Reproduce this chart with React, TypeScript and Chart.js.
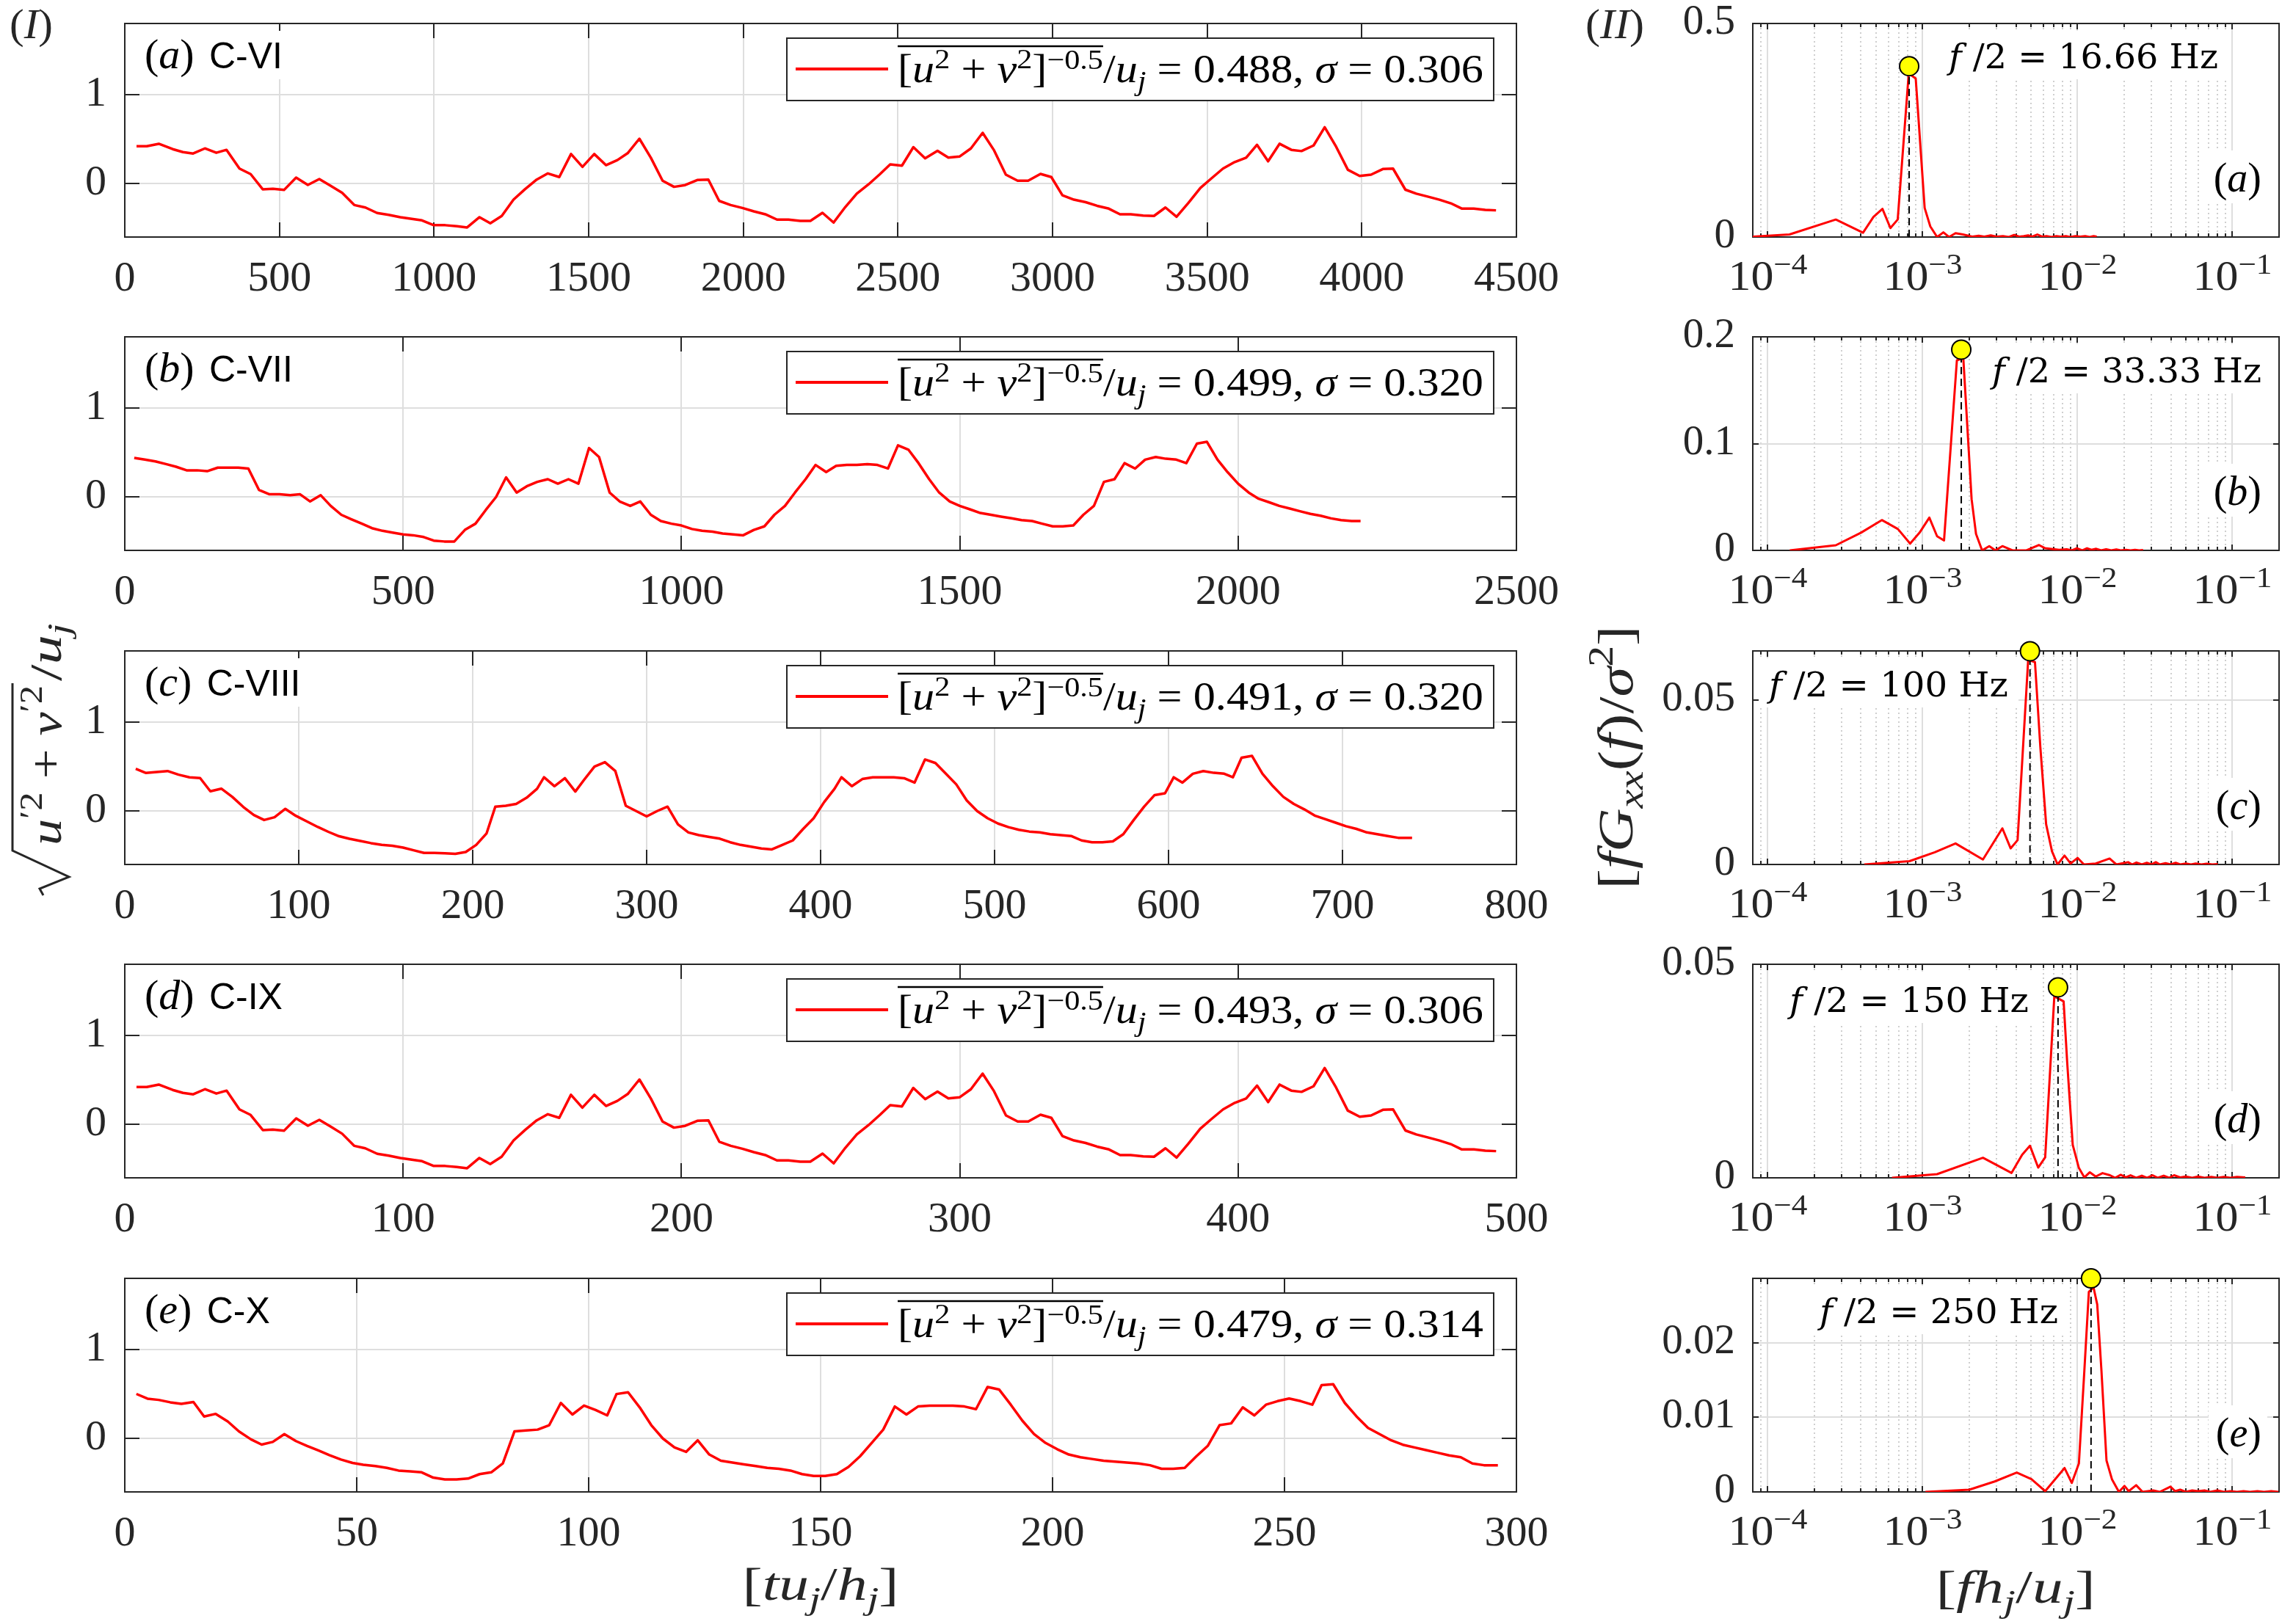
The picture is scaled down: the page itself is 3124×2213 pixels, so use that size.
import React, { useEffect, useRef } from 'react';
import { Chart, registerables } from 'chart.js';

Chart.register(...registerables);

// ---------------- DATA ----------------
const seriesA: [number, number][] = [[38,0.42],[71,0.42],[110,0.448],[155,0.388],[188,0.355],[221,0.339],[259,0.396],[296,0.347],[329,0.38],[371,0.169],[407,0.107],[446,-0.063],[479,-0.057],[515,-0.071],[554,0.068],[592,-0.014],[629,0.052],[665,-0.022],[703,-0.104],[742,-0.24],[778,-0.268],[816,-0.33],[853,-0.35],[891,-0.377],[928,-0.396],[961,-0.413],[999,-0.467],[1036,-0.467],[1074,-0.478],[1107,-0.492],[1147,-0.377],[1182,-0.445],[1219,-0.363],[1257,-0.18],[1294,-0.063],[1332,0.046],[1368,0.115],[1405,0.074],[1443,0.333],[1480,0.189],[1518,0.333],[1556,0.208],[1593,0.265],[1626,0.342],[1664,0.505],[1701,0.292],[1739,0.033],[1776,-0.036],[1812,-0.016],[1851,0.041],[1887,0.046],[1922,-0.194],[1959,-0.24],[1997,-0.273],[2034,-0.311],[2071,-0.344],[2109,-0.404],[2146,-0.404],[2184,-0.418],[2217,-0.418],[2256,-0.328],[2292,-0.437],[2330,-0.262],[2367,-0.112],[2405,-0.008],[2442,0.107],[2475,0.216],[2513,0.202],[2550,0.41],[2588,0.284],[2628,0.369],[2663,0.292],[2700,0.306],[2736,0.396],[2774,0.571],[2811,0.374],[2849,0.101],[2887,0.033],[2921,0.033],[2961,0.109],[2996,0.074],[3032,-0.131],[3069,-0.18],[3107,-0.208],[3144,-0.249],[3182,-0.281],[3218,-0.344],[3253,-0.344],[3293,-0.358],[3328,-0.363],[3365,-0.268],[3401,-0.372],[3440,-0.213],[3478,-0.049],[3514,0.06],[3551,0.169],[3589,0.243],[3626,0.292],[3661,0.437],[3697,0.251],[3734,0.448],[3772,0.38],[3805,0.366],[3844,0.429],[3880,0.634],[3917,0.415],[3955,0.156],[3993,0.087],[4030,0.101],[4068,0.164],[4101,0.169],[4141,-0.068],[4176,-0.112],[4213,-0.145],[4251,-0.18],[4288,-0.221],[4324,-0.281],[4362,-0.281],[4399,-0.295],[4434,-0.3]];

const seriesB: [number, number][] = [[17,0.44],[36,0.42],[55,0.4],[74,0.37],[92,0.34],[111,0.3],[130,0.3],[148,0.29],[167,0.33],[185,0.33],[204,0.33],[222,0.32],[241,0.08],[260,0.03],[278,0.03],[297,0.02],[315,0.03],[333,-0.05],[352,0.02],[370,-0.1],[389,-0.2],[407,-0.25],[426,-0.3],[444,-0.35],[463,-0.38],[481,-0.4],[500,-0.42],[518,-0.43],[537,-0.45],[555,-0.49],[574,-0.5],[592,-0.5],[611,-0.37],[630,-0.3],[648,-0.15],[667,0.0],[685,0.22],[704,0.05],[722,0.12],[741,0.17],[760,0.2],[778,0.15],[797,0.2],[815,0.15],[834,0.55],[852,0.45],[871,0.05],[889,-0.05],[908,-0.1],[926,-0.05],[945,-0.2],[963,-0.27],[982,-0.3],[1000,-0.32],[1019,-0.36],[1037,-0.38],[1056,-0.39],[1074,-0.41],[1093,-0.42],[1111,-0.43],[1130,-0.37],[1149,-0.33],[1167,-0.2],[1186,-0.1],[1204,0.05],[1223,0.2],[1241,0.36],[1260,0.28],[1278,0.35],[1297,0.36],[1315,0.36],[1334,0.37],[1352,0.36],[1371,0.32],[1389,0.58],[1408,0.53],[1426,0.38],[1445,0.2],[1463,0.05],[1482,-0.05],[1500,-0.1],[1519,-0.14],[1537,-0.18],[1556,-0.2],[1574,-0.22],[1593,-0.24],[1611,-0.26],[1630,-0.27],[1648,-0.3],[1667,-0.33],[1685,-0.33],[1704,-0.32],[1722,-0.2],[1741,-0.1],[1759,0.17],[1778,0.2],[1796,0.38],[1815,0.32],[1833,0.42],[1852,0.45],[1870,0.43],[1889,0.42],[1907,0.38],[1926,0.6],[1944,0.62],[1963,0.42],[1981,0.28],[2000,0.15],[2019,0.05],[2037,-0.02],[2056,-0.06],[2074,-0.1],[2093,-0.13],[2111,-0.16],[2130,-0.19],[2148,-0.21],[2167,-0.24],[2185,-0.26],[2204,-0.27],[2220,-0.27]];

const seriesC: [number, number][] = [[6.3,0.475],[12.2,0.428],[18.3,0.44],[24.6,0.45],[30.9,0.409],[37.2,0.38],[43.3,0.371],[49.2,0.223],[55.5,0.252],[61.8,0.16],[68.1,0.047],[74.2,-0.044],[80.1,-0.1],[86.1,-0.069],[92.3,0.025],[98.3,-0.053],[104.6,-0.116],[111,-0.179],[117,-0.233],[123.2,-0.283],[129.2,-0.311],[135.5,-0.336],[141.5,-0.36],[147.7,-0.38],[153.8,-0.39],[160,-0.41],[166,-0.44],[172,-0.47],[178,-0.47],[184,-0.475],[190,-0.48],[196,-0.46],[202,-0.38],[208,-0.25],[213,0.05],[219,0.06],[225,0.08],[231,0.15],[237,0.25],[241,0.38],[247,0.28],[253,0.37],[259,0.22],[264,0.35],[270,0.5],[276,0.55],[282,0.45],[288,0.06],[294,0.0],[300,-0.06],[306,0.0],[312,0.05],[318,-0.15],[324,-0.24],[330,-0.27],[336,-0.29],[342,-0.31],[348,-0.35],[354,-0.38],[360,-0.4],[366,-0.42],[372,-0.43],[378,-0.38],[384,-0.33],[390,-0.2],[396,-0.08],[402,0.1],[408,0.25],[412,0.38],[418,0.28],[424,0.36],[430,0.38],[436,0.38],[442,0.38],[448,0.37],[454,0.32],[460,0.58],[466,0.54],[472,0.42],[478,0.3],[484,0.12],[490,0.0],[496,-0.08],[502,-0.14],[508,-0.18],[514,-0.21],[520,-0.23],[526,-0.24],[532,-0.26],[538,-0.27],[544,-0.28],[550,-0.33],[556,-0.35],[562,-0.35],[568,-0.34],[574,-0.26],[580,-0.1],[586,0.05],[592,0.18],[598,0.2],[603,0.38],[608,0.32],[614,0.42],[620,0.45],[626,0.43],[632,0.42],[637,0.38],[642,0.6],[648,0.62],[654,0.42],[660,0.28],[666,0.16],[672,0.08],[678,0.02],[684,-0.05],[690,-0.09],[696,-0.13],[702,-0.17],[708,-0.2],[714,-0.24],[720,-0.26],[726,-0.28],[732,-0.3],[740,-0.3]];

const seriesD: [number, number][] = [[4.2,0.42],[7.9,0.42],[12.2,0.448],[17.2,0.388],[20.9,0.355],[24.6,0.339],[28.8,0.396],[32.9,0.347],[36.6,0.38],[41.2,0.169],[45.2,0.107],[49.6,-0.063],[53.2,-0.057],[57.2,-0.071],[61.6,0.068],[65.8,-0.014],[69.9,0.052],[73.9,-0.022],[78.1,-0.104],[82.4,-0.24],[86.4,-0.268],[90.7,-0.33],[94.8,-0.35],[99,-0.377],[103.1,-0.396],[106.8,-0.413],[111,-0.467],[115.1,-0.467],[119.3,-0.478],[123,-0.492],[127.4,-0.377],[131.3,-0.445],[135.4,-0.363],[139.7,-0.18],[143.8,-0.063],[148,0.046],[152,0.115],[156.1,0.074],[160.3,0.333],[164.4,0.189],[168.7,0.333],[172.9,0.208],[177,0.265],[180.7,0.342],[184.9,0.505],[189,0.292],[193.2,0.033],[197.3,-0.036],[201.3,-0.016],[205.7,0.041],[209.7,0.046],[213.6,-0.194],[217.7,-0.24],[221.9,-0.273],[226,-0.311],[230.1,-0.344],[234.3,-0.404],[238.4,-0.404],[242.7,-0.418],[246.3,-0.418],[250.7,-0.328],[254.7,-0.437],[258.9,-0.262],[263,-0.112],[267.2,-0.008],[271.3,0.107],[275,0.216],[279.2,0.202],[283.3,0.41],[287.6,0.284],[292,0.369],[295.9,0.292],[300,0.306],[304,0.396],[308.2,0.571],[312.3,0.374],[316.6,0.101],[320.8,0.033],[324.6,0.033],[329,0.109],[332.9,0.074],[336.9,-0.131],[341,-0.18],[345.2,-0.208],[349.3,-0.249],[353.6,-0.281],[357.6,-0.344],[361.4,-0.344],[365.9,-0.358],[369.8,-0.363],[373.9,-0.268],[377.9,-0.372],[382.2,-0.213],[386.4,-0.049],[390.4,0.06],[394.6,0.169],[398.8,0.243],[402.9,0.292],[406.8,0.437],[410.8,0.251],[414.9,0.448],[419.1,0.38],[422.8,0.366],[427.1,0.429],[431.1,0.634],[435.2,0.415],[439.4,0.156],[443.7,0.087],[447.8,0.101],[452,0.164],[455.7,0.169],[460.1,-0.068],[464,-0.112],[468.1,-0.145],[472.3,-0.18],[476.4,-0.221],[480.4,-0.281],[484.7,-0.281],[488.8,-0.295],[492.7,-0.3]];

const seriesE: [number, number][] = [[2.5,0.501],[4.9,0.448],[7.3,0.434],[9.8,0.407],[12.2,0.389],[14.8,0.41],[17.1,0.248],[19.6,0.277],[22.2,0.192],[24.6,0.08],[27.2,-0.009],[29.5,-0.068],[31.9,-0.038],[34.4,0.05],[36.9,-0.029],[39.3,-0.083],[41.7,-0.133],[44.1,-0.186],[46.6,-0.236],[49.1,-0.274],[51.4,-0.295],[54,-0.31],[56.5,-0.33],[59,-0.36],[61.5,-0.37],[64,-0.38],[66.5,-0.44],[69,-0.46],[71.5,-0.46],[74,-0.45],[76.5,-0.4],[79,-0.38],[81.5,-0.28],[84,0.08],[86.5,0.09],[89,0.1],[91.5,0.15],[94,0.4],[96.5,0.27],[99,0.37],[101.5,0.32],[104,0.26],[106,0.5],[108.5,0.52],[111,0.35],[113.5,0.15],[116,0.0],[118.5,-0.1],[121,-0.15],[123.5,-0.02],[126,-0.18],[128.5,-0.25],[131,-0.27],[133.5,-0.29],[136,-0.31],[138.5,-0.33],[141,-0.34],[143.5,-0.36],[146,-0.4],[148.5,-0.42],[151,-0.42],[153.5,-0.4],[156,-0.32],[158.5,-0.2],[161,-0.05],[163.5,0.1],[166,0.36],[168.5,0.27],[171,0.36],[173.5,0.37],[176,0.37],[178.5,0.37],[181,0.36],[183.5,0.33],[186,0.58],[188.5,0.55],[191,0.38],[193.5,0.2],[196,0.05],[198.5,-0.05],[201,-0.12],[203.5,-0.18],[206,-0.21],[208.5,-0.23],[211,-0.25],[213.5,-0.26],[216,-0.27],[218.5,-0.28],[221,-0.3],[223.5,-0.34],[226,-0.34],[228.5,-0.33],[231,-0.2],[233.5,-0.08],[236,0.15],[238.5,0.17],[241,0.35],[243.5,0.26],[246,0.38],[248.5,0.42],[251,0.45],[253.5,0.42],[256,0.38],[258,0.6],[260.5,0.61],[263,0.4],[265.5,0.25],[268,0.12],[270.5,0.05],[273,-0.02],[275.5,-0.07],[278,-0.1],[280.5,-0.13],[283,-0.16],[285.5,-0.19],[288,-0.21],[290.5,-0.28],[293,-0.3],[296,-0.3]];

const specA: [number, number][] = [[8.0e-5,0.001],[1.38e-4,0.006],[2.75e-4,0.041],[4.12e-4,0.01],[4.81e-4,0.047],[5.5e-4,0.066],[6.19e-4,0.021],[6.9e-4,0.041],[8.13e-4,0.383],[9.02e-4,0.371],[1.03e-3,0.068],[1.12e-3,0.025],[1.24e-3,0.0],[1.36e-3,0.011],[1.48e-3,0.0],[1.63e-3,0.009],[1.82e-3,0.006],[2.09e-3,0.001],[2.3e-3,0.003],[2.5e-3,0.001],[2.75e-3,0.004],[3.0e-3,0.001],[3.3e-3,0.002],[3.6e-3,0.0],[3.9e-3,0.005],[4.2e-3,0.001],[4.5e-3,0.002],[4.8e-3,0.004],[5.1e-3,0.001],[5.5e-3,0.006],[5.9e-3,0.001],[6.3e-3,0.002],[6.8e-3,0.0],[7.3e-3,0.002],[7.8e-3,0.001],[8.4e-3,0.002],[9.0e-3,0.0],[9.7e-3,0.002],[0.0104,0.001],[0.0112,0.002],[0.012,0.0],[0.0127,0.002],[0.0133,0.001]];

const specB: [number, number][] = [[1.387e-4,0.0],[2.75e-4,0.0048],[4.0e-4,0.0166],[5.45e-4,0.0284],[6.92e-4,0.02],[8.3e-4,0.0063],[9.55e-4,0.0166],[1.104e-3,0.0307],[1.239e-3,0.0132],[1.374e-3,0.0093],[1.663e-3,0.178],[1.83e-3,0.18],[2.07e-3,0.048],[2.21e-3,0.0155],[2.42e-3,0.0],[2.69e-3,0.004],[2.95e-3,0.0],[3.27e-3,0.004],[3.8e-3,0.0],[4.68e-3,0.0],[5.64e-3,0.005],[6.18e-3,0.002],[7.6e-3,0.0005],[8.5e-3,0.001],[9.2e-3,0.0],[0.0099,0.002],[0.0107,0.0],[0.0115,0.002],[0.0123,0.0005],[0.0132,0.0015],[0.0142,0.0],[0.0153,0.001],[0.0165,0.0],[0.0178,0.0008],[0.019,0.0],[0.0205,0.0006],[0.022,0.0],[0.0235,0.0005],[0.025,0.0],[0.0265,0.0003]];

const specC: [number, number][] = [[4.2e-4,0.0],[8.22e-4,0.001],[1.197e-3,0.0037],[1.63e-3,0.0064],[2.45e-3,0.0015],[3.27e-3,0.011],[3.7e-3,0.0049],[4.1e-3,0.0074],[4.8e-3,0.0623],[5.31e-3,0.0616],[5.75e-3,0.0358],[6.27e-3,0.0122],[6.84e-3,0.004],[7.43e-3,0.0],[8.24e-3,0.0027],[9.02e-3,0.0003],[0.01,0.002],[0.011,0.0],[0.0131,0.0003],[0.0161,0.0018],[0.0178,0.0],[0.0212,0.0007],[0.0225,0.0],[0.024,0.0006],[0.026,0.0],[0.028,0.0005],[0.03,0.0],[0.032,0.0007],[0.034,0.0],[0.037,0.0004],[0.04,0.0],[0.043,0.0005],[0.046,0.0],[0.05,0.0003],[0.054,0.0],[0.058,0.0003],[0.063,0.0],[0.068,0.0002],[0.074,0.0],[0.0804,0.0001]];

const specD: [number, number][] = [[6.34e-4,0.0],[1.239e-3,0.00086],[2.45e-3,0.0047],[3.75e-3,0.00114],[4.39e-3,0.0054],[4.93e-3,0.0075],[5.57e-3,0.0024],[6.18e-3,0.0048],[7.08e-3,0.0425],[8.13e-3,0.0413],[8.57e-3,0.0271],[9.31e-3,0.0077],[0.0102,0.0023],[0.01107,0.0001],[0.012,0.0013],[0.0131,0.0003],[0.0145,0.0011],[0.0162,0.0006],[0.0175,0.0],[0.019,0.0007],[0.0205,0.0001],[0.022,0.0006],[0.024,0.0],[0.026,0.0005],[0.028,0.0],[0.0305,0.0006],[0.033,0.0],[0.036,0.0005],[0.039,0.0],[0.042,0.0006],[0.046,0.0001],[0.05,0.0003],[0.055,0.0],[0.06,0.0003],[0.066,0.0],[0.073,0.0002],[0.08,0.0],[0.088,0.0002],[0.097,0.0],[0.107,0.0002],[0.121,0.0001]];

const specE: [number, number][] = [[1.042e-3,0.0],[2.0e-3,0.0003],[2.92e-3,0.0014],[4.05e-3,0.0026],[5.04e-3,0.0017],[6.18e-3,0.0001],[8.24e-3,0.0032],[9.18e-3,0.0012],[0.0102,0.0038],[0.01107,0.0163],[0.01183,0.0268],[0.01268,0.0274],[0.0134,0.0251],[0.01426,0.0163],[0.01538,0.0042],[0.01667,0.0017],[0.0185,0.0],[0.0201,0.0008],[0.0214,0.0001],[0.0239,0.0009],[0.0263,0.0],[0.0308,0.0002],[0.0339,0.0],[0.0398,0.0007],[0.0427,0.0001],[0.046,0.0003],[0.05,0.0],[0.055,0.0002],[0.06,0.0001],[0.066,0.0002],[0.072,0.0],[0.08,0.0002],[0.088,0.0],[0.097,0.0001],[0.107,0.0],[0.118,0.0001],[0.13,0.0],[0.145,0.0001],[0.16,0.0],[0.178,0.0001],[0.198,0.0]];

const xTicksA = [0, 500, 1000, 1500, 2000, 2500, 3000, 3500, 4000, 4500];
const xTicksB = [0, 500, 1000, 1500, 2000, 2500];
const xTicksC = [0, 100, 200, 300, 400, 500, 600, 700, 800];
const xTicksD = [0, 100, 200, 300, 400, 500];
const xTicksE = [0, 50, 100, 150, 200, 250, 300];
const leftYTicks = [0, 1];
const leftYTickLabels = ['0', '1'];
const logMajorTicks = [1e-4, 1e-3, 1e-2, 1e-1];
const logMajorExponents = ['\u22124', '\u22123', '\u22122', '\u22121'];
const caseNames = ['C-VI', 'C-VII', 'C-VIII', 'C-IX', 'C-X'];
const panelLetters = ['a', 'b', 'c', 'd', 'e'];
const meanValues = ['0.488', '0.499', '0.491', '0.493', '0.479'];
const sigmaValues = ['0.306', '0.320', '0.320', '0.306', '0.314'];
const halfFreqLabels = ['16.66 Hz', '33.33 Hz', '100 Hz', '150 Hz', '250 Hz'];
const peakFreq = [8.18e-4, 1.775e-3, 4.93e-3, 7.48e-3, 0.01222];
const peakValue = [0.4, 0.188, 0.0649, 0.0446, 0.0286];
const specYMax = [0.5, 0.2, 0.065, 0.05, 0.0286];
const specYTicks = [[0, 0.5], [0, 0.1, 0.2], [0, 0.05], [0, 0.05], [0, 0.01, 0.02]];
const specYTickLabels = [['0', '0.5'], ['0', '0.1', '0.2'], ['0', '0.05'], ['0', '0.05'], ['0', '0.01', '0.02']];

const leftSeries = [seriesA, seriesB, seriesC, seriesD, seriesE];
const leftXTicks = [xTicksA, xTicksB, xTicksC, xTicksD, xTicksE];
const leftXMax = [4500, 2500, 800, 500, 300];
const specSeries = [specA, specB, specC, specD, specE];

// ---------------- LAYOUT / STYLE ----------------
const AX = '#262626';
const GRID = '#dedede';
const MINOR = '#c0c0c0';
const RED = '#ff0000';
const SERIF = '"Liberation Serif", "DejaVu Serif", serif';
const SANS = '"Liberation Sans", "DejaVu Sans", sans-serif';
const DJV = '"DejaVu Serif", "Liberation Serif", serif';

const FIG_W = 3124;
const FIG_H = 2213;
const ROW_TOP = [32, 459, 887, 1314, 1742];
const PLOT_H = 291;
const LEFT_X0 = 170;
const LEFT_W = 1896;
const LEFT_CW = 2140;
const RIGHT_CX = 2140;
const RIGHT_X0 = 2388;
const RIGHT_W = 717;
const RIGHT_CW = 984;
const F_TEXT_POS = [[267, 61], [326, 62], [22, 62], [50, 65], [91, 61]];
const F_TEXT_W = [367, 367, 326, 326, 325];

type Part = { t: string; it?: boolean; s?: number; dy?: number; fam?: string };

function fontOf(p: Part, size: number, fam: string) {
  const sz = (size * (p.s ?? 1)).toFixed(1);
  return `${p.it ? 'italic ' : ''}${sz}px ${p.fam ?? fam}`;
}

function measureRich(ctx: CanvasRenderingContext2D, parts: Part[], size: number, fam: string, target?: number) {
  const ws = parts.map((p) => {
    ctx.font = fontOf(p, size, fam);
    return ctx.measureText(p.t).width;
  });
  const raw = ws.reduce((a, b) => a + b, 0);
  const fx = target ? Math.min(1.3, Math.max(0.75, target / raw)) : 1;
  return { ws, raw, fx, w: raw * fx };
}

function drawRich(ctx: CanvasRenderingContext2D, parts: Part[], x: number, y: number, size: number, fam: string, align = 'left', target?: number) {
  const m = measureRich(ctx, parts, size, fam, target);
  const x0 = align === 'center' ? x - m.w / 2 : align === 'right' ? x - m.w : x;
  ctx.save();
  ctx.translate(x0, y);
  ctx.scale(m.fx, 1);
  ctx.textAlign = 'left';
  ctx.textBaseline = 'alphabetic';
  let cx = 0;
  const spans: number[][] = [];
  parts.forEach((p, k) => {
    ctx.font = fontOf(p, size, fam);
    ctx.fillText(p.t, cx, (p.dy ?? 0) * size);
    spans.push([x0 + cx * m.fx, x0 + (cx + m.ws[k]) * m.fx]);
    cx += m.ws[k];
  });
  ctx.restore();
  return { x0, w: m.w, spans };
}

function seg(ctx: CanvasRenderingContext2D, x1: number, y1: number, x2: number, y2: number) {
  ctx.beginPath();
  ctx.moveTo(x1, y1);
  ctx.lineTo(x2, y2);
  ctx.stroke();
}

function rowGeom(i: number) {
  const top = ROW_TOP[i];
  const cy = Math.max(0, top - 45);
  const ch = i < 4 ? top + PLOT_H + 140 - cy : FIG_H - cy;
  const padT = top - cy;
  return { cy, ch, padT, padB: ch - padT - PLOT_H };
}

function logMinorTicks() {
  const out: number[] = [];
  for (let d = -5; d <= -1; d++) {
    for (let m = 2; m <= 9; m++) out.push(m * Math.pow(10, d));
  }
  return out;
}
const LOG_MINOR = logMinorTicks();

// ---------------- GLOBAL LABELS ----------------
function drawLeftYLabel(ctx: CanvasRenderingContext2D) {
  ctx.save();
  ctx.translate(83, 1220);
  ctx.rotate(-Math.PI / 2);
  ctx.strokeStyle = AX;
  ctx.fillStyle = AX;
  ctx.lineWidth = 3;
  ctx.beginPath();
  ctx.moveTo(0, -24);
  ctx.lineTo(9, -29);
  ctx.lineTo(25, 11);
  ctx.lineTo(61, -66);
  ctx.lineTo(289, -66);
  ctx.stroke();
  drawRich(ctx, [{ t: 'u', it: true }, { t: '\u20322', s: 0.7, dy: -0.42 }, { t: ' + ' }, { t: 'v', it: true }, { t: '\u20322', s: 0.7, dy: -0.42 }], 68, 0, 62, SERIF, 'left', 218);
  drawRich(ctx, [{ t: '/' }, { t: 'u', it: true }, { t: 'j', it: true, s: 0.7, dy: 0.2 }], 292, 0, 62, SERIF, 'left', 84);
  ctx.restore();
}

function drawRightYLabel(ctx: CanvasRenderingContext2D) {
  ctx.save();
  ctx.translate(2224, 1032);
  ctx.rotate(-Math.PI / 2);
  ctx.fillStyle = AX;
  drawRich(ctx, [{ t: '[' }, { t: 'f', it: true }, { t: 'G', it: true }, { t: 'xx', it: true, s: 0.7, dy: 0.2 }, { t: '(' }, { t: 'f', it: true }, { t: ')' }, { t: '/' }, { t: '\u03c3', it: true }, { t: '2', s: 0.7, dy: -0.4 }, { t: ']' }], 0, 0, 68, SERIF, 'center', 359);
  ctx.restore();
}

// ---------------- PLUGINS ----------------
function leftPlugin(i: number, cy: number) {
  return {
    id: 'leftDecor' + i,
    beforeDatasetsDraw(chart: any) {
      const { ctx, chartArea: a, scales } = chart;
      const xs = scales.x;
      const ys = scales.y;
      ctx.save();
      ctx.lineCap = 'butt';
      ctx.strokeStyle = GRID;
      ctx.lineWidth = 2;
      for (const v of leftXTicks[i]) {
        const px = Math.round(xs.getPixelForValue(v));
        seg(ctx, px, a.top, px, a.bottom);
      }
      for (const v of leftYTicks) {
        const py = Math.round(ys.getPixelForValue(v));
        seg(ctx, a.left, py, a.right, py);
      }
      ctx.strokeStyle = AX;
      for (const v of leftXTicks[i]) {
        const px = Math.round(xs.getPixelForValue(v));
        seg(ctx, px, a.bottom, px, a.bottom - 20);
        seg(ctx, px, a.top, px, a.top + 20);
      }
      for (const v of leftYTicks) {
        const py = Math.round(ys.getPixelForValue(v));
        seg(ctx, a.left, py, a.left + 20, py);
        seg(ctx, a.right, py, a.right - 20, py);
      }
      // panel label with white background
      const lp: Part[] = [{ t: '(' }, { t: panelLetters[i], it: true }, { t: ')' }, { t: ' ', s: 1.4 }, { t: caseNames[i], fam: SANS, s: 50 / 58 }];
      const lm = measureRich(ctx, lp, 58, SERIF);
      ctx.fillStyle = '#ffffff';
      ctx.fillRect(a.left + 12, a.top + 10, lm.w + 29, 66);
      ctx.fillStyle = '#000000';
      drawRich(ctx, lp, a.left + 27, a.top + 61, 58, SERIF);
      // legend
      const bx0 = a.right - 994;
      const bx1 = a.right - 31;
      const by0 = a.top + 20;
      const by1 = a.top + 105;
      ctx.fillStyle = '#ffffff';
      ctx.fillRect(bx0, by0, bx1 - bx0, by1 - by0);
      ctx.strokeStyle = AX;
      ctx.lineWidth = 2;
      ctx.strokeRect(bx0, by0, bx1 - bx0, by1 - by0);
      ctx.strokeStyle = RED;
      ctx.lineWidth = 4;
      seg(ctx, bx0 + 12, a.top + 62, bx0 + 138, a.top + 62);
      ctx.fillStyle = '#000000';
      const parts: Part[] = [
        { t: '[' }, { t: 'u', it: true }, { t: '2', s: 0.7, dy: -0.36 }, { t: ' + ' }, { t: 'v', it: true }, { t: '2', s: 0.7, dy: -0.36 }, { t: ']' },
        { t: '\u22120.5', s: 0.7, dy: -0.34 }, { t: '/' }, { t: 'u', it: true }, { t: 'j', it: true, s: 0.7, dy: 0.2 },
        { t: ' = ' + meanValues[i] + ', ' }, { t: '\u03c3', it: true }, { t: ' = ' + sigmaValues[i] },
      ];
      const r = drawRich(ctx, parts, bx0 + 151, a.top + 80, 54, SERIF, 'left', 798);
      ctx.strokeStyle = '#000000';
      ctx.lineWidth = 2.5;
      seg(ctx, r.spans[0][0], a.top + 31, r.spans[7][1], a.top + 31);
      // border
      ctx.strokeStyle = AX;
      ctx.lineWidth = 2;
      ctx.strokeRect(a.left, a.top, a.right - a.left, a.bottom - a.top);
      ctx.restore();
    },
    afterDraw(chart: any) {
      const { ctx, chartArea: a, scales } = chart;
      const xs = scales.x;
      const ys = scales.y;
      ctx.save();
      ctx.fillStyle = AX;
      ctx.font = `58px ${SERIF}`;
      ctx.textAlign = 'center';
      ctx.textBaseline = 'alphabetic';
      for (const v of leftXTicks[i]) ctx.fillText(String(v), xs.getPixelForValue(v), a.bottom + 73);
      ctx.textAlign = 'right';
      leftYTicks.forEach((v, k) => ctx.fillText(leftYTickLabels[k], a.left - 25, ys.getPixelForValue(v) + 15));
      ctx.translate(0, -cy);
      if (i === 0) drawRich(ctx, [{ t: '(' }, { t: 'I', it: true }, { t: ')' }], 13, 52, 56, SERIF, 'left', 59);
      if (i === 2) drawLeftYLabel(ctx);
      if (i === 4) drawRich(ctx, [{ t: '[' }, { t: 't', it: true }, { t: 'u', it: true }, { t: 'j', it: true, s: 0.7, dy: 0.2 }, { t: '/' }, { t: 'h', it: true }, { t: 'j', it: true, s: 0.7, dy: 0.2 }, { t: ']' }], 1118, 2180, 64, SERIF, 'center', 213);
      ctx.restore();
    },
  };
}

function rightPlugin(i: number, cy: number) {
  return {
    id: 'rightDecor' + i,
    beforeDatasetsDraw(chart: any) {
      const { ctx, chartArea: a, scales } = chart;
      const xs = scales.x;
      const ys = scales.y;
      ctx.save();
      ctx.lineCap = 'butt';
      ctx.strokeStyle = MINOR;
      ctx.lineWidth = 1.5;
      ctx.setLineDash([2, 4]);
      for (const v of LOG_MINOR) {
        const px = Math.round(xs.getPixelForValue(v));
        if (px > a.left + 1 && px < a.right - 1) seg(ctx, px, a.top, px, a.bottom);
      }
      ctx.setLineDash([]);
      ctx.strokeStyle = GRID;
      ctx.lineWidth = 2;
      for (const v of logMajorTicks) {
        const px = Math.round(xs.getPixelForValue(v));
        seg(ctx, px, a.top, px, a.bottom);
      }
      for (const v of specYTicks[i]) {
        const py = Math.round(ys.getPixelForValue(v));
        seg(ctx, a.left, py, a.right, py);
      }
      ctx.strokeStyle = AX;
      ctx.lineWidth = 2;
      for (const v of LOG_MINOR) {
        const px = Math.round(xs.getPixelForValue(v));
        if (px > a.left + 1 && px < a.right - 1) {
          seg(ctx, px, a.bottom, px, a.bottom - 5);
          seg(ctx, px, a.top, px, a.top + 5);
        }
      }
      for (const v of logMajorTicks) {
        const px = Math.round(xs.getPixelForValue(v));
        seg(ctx, px, a.bottom, px, a.bottom - 8);
        seg(ctx, px, a.top, px, a.top + 8);
      }
      for (const v of specYTicks[i]) {
        const py = Math.round(ys.getPixelForValue(v));
        seg(ctx, a.left, py, a.left + 8, py);
        seg(ctx, a.right, py, a.right - 8, py);
      }
      // f/2 annotation
      const fp: Part[] = [{ t: 'f', it: true }, { t: ' /2 = ' + halfFreqLabels[i] }];
      const fm = measureRich(ctx, fp, 46, DJV, F_TEXT_W[i]);
      const tx = a.left + F_TEXT_POS[i][0];
      const ty = a.top + F_TEXT_POS[i][1];
      ctx.fillStyle = '#ffffff';
      ctx.fillRect(tx - 14, a.top + 10, fm.w + 28, ty + 15 - (a.top + 10));
      ctx.fillStyle = '#000000';
      drawRich(ctx, fp, tx, ty, 46, DJV, 'left', F_TEXT_W[i]);
      // panel letter
      const lp: Part[] = [{ t: '(' }, { t: panelLetters[i], it: true }, { t: ')' }];
      const lm = measureRich(ctx, lp, 56, SERIF);
      const lx = a.left + 693 - lm.w;
      const ly = a.bottom - 62;
      ctx.fillStyle = '#ffffff';
      ctx.fillRect(lx - 10, ly - 56, lm.w + 18, 72);
      ctx.fillStyle = '#000000';
      drawRich(ctx, lp, lx, ly, 56, SERIF);
      ctx.strokeStyle = AX;
      ctx.lineWidth = 2;
      ctx.strokeRect(a.left, a.top, a.right - a.left, a.bottom - a.top);
      ctx.restore();
    },
    afterDraw(chart: any) {
      const { ctx, chartArea: a, scales } = chart;
      const xs = scales.x;
      const ys = scales.y;
      ctx.save();
      ctx.fillStyle = AX;
      logMajorTicks.forEach((v, k) => {
        drawRich(ctx, [{ t: '10' }, { t: logMajorExponents[k], s: 0.7, dy: -0.4 }], xs.getPixelForValue(v), a.bottom + 72, 56, SERIF, 'center', 108);
      });
      ctx.font = `57px ${SERIF}`;
      ctx.textAlign = 'right';
      ctx.textBaseline = 'alphabetic';
      specYTicks[i].forEach((v, k) => ctx.fillText(specYTickLabels[i][k], a.left - 24, ys.getPixelForValue(v) + 14));
      ctx.translate(-RIGHT_CX, -cy);
      if (i === 0) drawRich(ctx, [{ t: '(' }, { t: 'II', it: true }, { t: ')' }], 2160, 52, 56, SERIF, 'left', 80);
      if (i === 2) drawRightYLabel(ctx);
      if (i === 4) drawRich(ctx, [{ t: '[' }, { t: 'f', it: true }, { t: 'h', it: true }, { t: 'j', it: true, s: 0.7, dy: 0.2 }, { t: '/' }, { t: 'u', it: true }, { t: 'j', it: true, s: 0.7, dy: 0.2 }, { t: ']' }], 2746, 2184, 64, SERIF, 'center', 219);
      ctx.restore();
    },
  };
}

// ---------------- CONFIGS ----------------
function baseOptions(padL: number, padR: number, g: any, xScale: any, yMin: number, yMax: number) {
  return {
    animation: false,
    responsive: false,
    maintainAspectRatio: false,
    events: [],
    layout: { padding: { left: padL, right: padR, top: g.padT, bottom: g.padB }, autoPadding: false },
    plugins: { legend: { display: false }, tooltip: { enabled: false }, title: { display: false } },
    scales: {
      x: { ...xScale, display: false },
      y: { type: 'linear', min: yMin, max: yMax, display: false },
    },
  };
}

function leftConfig(i: number, g: any): any {
  const pts = leftSeries[i].map(([x, y]) => ({ x, y }));
  return {
    type: 'line',
    data: {
      datasets: [{ data: pts, borderColor: RED, borderWidth: 3.5, pointRadius: 0, pointHoverRadius: 0, fill: false, tension: 0, borderJoinStyle: 'round' }],
    },
    options: baseOptions(LEFT_X0, LEFT_CW - LEFT_X0 - LEFT_W, g, { type: 'linear', min: 0, max: leftXMax[i] }, -0.6, 1.8),
    plugins: [leftPlugin(i, g.cy)],
  };
}

function rightConfig(i: number, g: any): any {
  const pts = specSeries[i].map(([x, y]) => ({ x, y }));
  return {
    type: 'line',
    data: {
      datasets: [
        { data: [{ x: peakFreq[i], y: peakValue[i] }], showLine: false, pointRadius: 13, pointHoverRadius: 13, pointBackgroundColor: '#ffff00', pointBorderColor: '#000000', pointBorderWidth: 2, clip: false, order: 1 },
        { data: [{ x: peakFreq[i], y: 0 }, { x: peakFreq[i], y: peakValue[i] }], borderColor: '#000000', borderWidth: 2, borderDash: [10, 6], pointRadius: 0, pointHoverRadius: 0, fill: false, order: 2 },
        { data: pts, borderColor: RED, borderWidth: 3, pointRadius: 0, pointHoverRadius: 0, fill: false, tension: 0, borderJoinStyle: 'round', order: 3 },
      ],
    },
    options: baseOptions(RIGHT_X0 - RIGHT_CX, RIGHT_CW - (RIGHT_X0 - RIGHT_CX) - RIGHT_W, g, { type: 'logarithmic', min: 8e-5, max: 0.2 }, 0, specYMax[i]),
    plugins: [rightPlugin(i, g.cy)],
  };
}

export default function App() {
  const leftRefs = useRef<(HTMLCanvasElement | null)[]>([]);
  const rightRefs = useRef<(HTMLCanvasElement | null)[]>([]);

  useEffect(() => {
    const charts: Chart[] = [];
    for (let i = 0; i < 5; i++) {
      const g = rowGeom(i);
      const lc = leftRefs.current[i];
      const rc = rightRefs.current[i];
      if (lc) charts.push(new Chart(lc, leftConfig(i, g)));
      if (rc) charts.push(new Chart(rc, rightConfig(i, g)));
    }
    return () => charts.forEach((c) => c.destroy());
  }, []);

  const rows = [0, 1, 2, 3, 4];
  return (
    <div style={{ position: 'absolute', left: 0, top: 0, width: FIG_W, height: FIG_H, background: '#ffffff', overflow: 'hidden' }}>
      {rows.map((i) => {
        const g = rowGeom(i);
        return (
          <React.Fragment key={i}>
            <canvas
              ref={(el) => { leftRefs.current[i] = el; }}
              width={LEFT_CW}
              height={g.ch}
              style={{ position: 'absolute', left: 0, top: g.cy, width: LEFT_CW, height: g.ch }}
            />
            <canvas
              ref={(el) => { rightRefs.current[i] = el; }}
              width={RIGHT_CW}
              height={g.ch}
              style={{ position: 'absolute', left: RIGHT_CX, top: g.cy, width: RIGHT_CW, height: g.ch }}
            />
          </React.Fragment>
        );
      })}
    </div>
  );
}
